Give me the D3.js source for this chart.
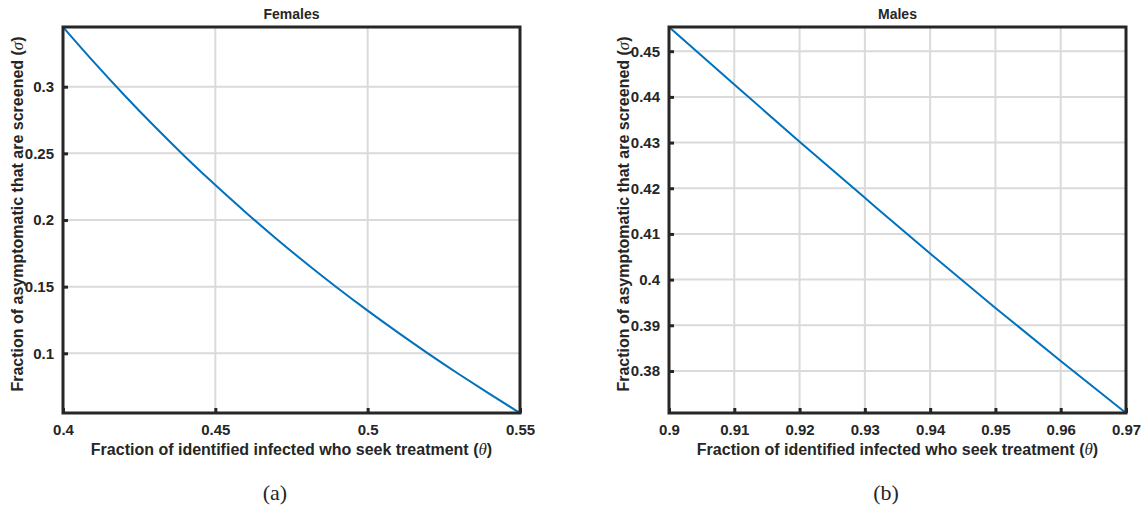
<!DOCTYPE html>
<html>
<head>
<meta charset="utf-8">
<script src="https://cdn.jsdelivr.net/npm/d3@7"></script>
<style>
  body { margin: 0; background: #fff; }
  svg text { fill: #262626; }
</style>
</head>
<body>
<div id="chart-area"></div>
<script>
'use strict';

// panel (a): females
let femaleTheta = [0.40, 0.41, 0.42, 0.43, 0.44, 0.45, 0.46, 0.47, 0.48, 0.49, 0.50, 0.51, 0.52, 0.53, 0.54, 0.55];
let femaleSigma = [0.3448, 0.3188, 0.2940, 0.2703, 0.2477, 0.2262, 0.2057, 0.1860, 0.1672, 0.1492, 0.1320, 0.1155, 0.0996, 0.0843, 0.0695, 0.0552];
let femaleXTicks = [0.4, 0.45, 0.5, 0.55];
let femaleYTicks = [0.1, 0.15, 0.2, 0.25, 0.3];
let femaleXDomain = [0.4, 0.55];
let femaleYDomain = [0.0552, 0.3448];

// panel (b): males
let maleTheta = [0.90, 0.91, 0.92, 0.93, 0.94, 0.95, 0.96, 0.97];
let maleSigma = [0.4553, 0.4427, 0.4302, 0.4179, 0.4057, 0.3938, 0.3822, 0.3708];
let maleXTicks = [0.9, 0.91, 0.92, 0.93, 0.94, 0.95, 0.96, 0.97];
let maleYTicks = [0.38, 0.39, 0.4, 0.41, 0.42, 0.43, 0.44, 0.45];
let maleXDomain = [0.9, 0.97];
let maleYDomain = [0.3708, 0.4553];

let W = 1148, H = 505;

let svg = d3.select('#chart-area').append('svg')
    .attr('width', W)
    .attr('height', H);

let sans = '"Liberation Sans", Arial, sans-serif';
let serif = '"Liberation Serif", "DejaVu Serif", serif';

function panel(left, cfg) {
    let w = 457, h = 386, top = 27;
    let g = svg.append('g')
        .attr('transform', 'translate(' + left + ',' + top + ')');

    let x = d3.scaleLinear().domain(cfg.xDomain).range([0, w]);
    let y = d3.scaleLinear().domain(cfg.yDomain).range([h, 0]);

    // grid
    g.append('g')
        .selectAll('line')
        .data(cfg.xTicks.filter(d => x(d) > 1 && x(d) < w - 1))
        .enter().append('line')
            .attr('x1', d => x(d)).attr('x2', d => x(d))
            .attr('y1', 0).attr('y2', h)
            .attr('stroke', '#dadada')
            .attr('stroke-width', 2);
    g.append('g')
        .selectAll('line')
        .data(cfg.yTicks)
        .enter().append('line')
            .attr('x1', 0).attr('x2', w)
            .attr('y1', d => y(d)).attr('y2', d => y(d))
            .attr('stroke', '#dadada')
            .attr('stroke-width', 2);

    // curve
    let line = d3.line()
        .x((d, i) => x(cfg.theta[i]))
        .y(d => y(d))
        .curve(d3.curveMonotoneX);
    g.append('path')
        .datum(cfg.sigma)
        .attr('d', line)
        .attr('fill', 'none')
        .attr('stroke', '#0072BD')
        .attr('stroke-width', 2);

    // axes with inward ticks
    let xAxis = d3.axisBottom(x)
        .tickValues(cfg.xTicks)
        .tickSizeInner(-5)
        .tickSizeOuter(0)
        .tickPadding(11)
        .tickFormat(d3.format(''));
    let gx = g.append('g')
        .attr('transform', 'translate(0,' + h + ')')
        .call(xAxis);

    let yAxis = d3.axisLeft(y)
        .tickValues(cfg.yTicks)
        .tickSizeInner(-5)
        .tickSizeOuter(0)
        .tickPadding(9)
        .tickFormat(d3.format(''));
    let gy = g.append('g')
        .call(yAxis);

    [gx, gy].forEach(a => {
        a.select('.domain').remove();
        a.selectAll('.tick line')
            .attr('stroke', '#262626')
            .attr('stroke-width', 3);
        a.selectAll('.tick text')
            .attr('font-family', sans)
            .attr('font-weight', 'bold')
            .attr('font-size', '15px')
            .attr('fill', '#262626');
    });

    // box
    g.append('rect')
        .attr('x', 0).attr('y', 0)
        .attr('width', w).attr('height', h)
        .attr('fill', 'none')
        .attr('stroke', '#262626')
        .attr('stroke-width', 3);

    // title
    g.append('text')
        .attr('x', w / 2)
        .attr('y', -8)
        .attr('text-anchor', 'middle')
        .attr('font-family', sans)
        .attr('font-weight', 'bold')
        .attr('font-size', '14px')
        .text(cfg.title);

    // x label
    let xl = g.append('text')
        .attr('x', w / 2)
        .attr('y', h + 42)
        .attr('text-anchor', 'middle')
        .attr('font-family', sans)
        .attr('font-weight', 'bold')
        .attr('font-size', '16px');
    xl.append('tspan').text('Fraction of identified infected who seek treatment (');
    xl.append('tspan').attr('font-family', serif).attr('font-style', 'italic')
        .attr('font-weight', 'normal').attr('font-size', '17px').text('\u03b8');
    xl.append('tspan').text(')');

    // y label
    let yl = g.append('text')
        .attr('transform', 'translate(' + cfg.yLabelX + ',' + (h / 2 - 6) + ') rotate(-90)')
        .attr('text-anchor', 'middle')
        .attr('font-family', sans)
        .attr('font-weight', 'bold')
        .attr('font-size', '16px');
    yl.append('tspan').text('Fraction of asymptomatic that are screened (');
    yl.append('tspan').attr('font-family', serif).attr('font-style', 'italic')
        .attr('font-weight', 'normal').attr('font-size', '17px').text('\u03c3');
    yl.append('tspan').text(')');

    // subfigure caption
    svg.append('text')
        .attr('x', left + cfg.captionDx)
        .attr('y', 500)
        .attr('text-anchor', 'middle')
        .attr('font-family', serif)
        .attr('font-size', '22px')
        .text(cfg.caption);
}

panel(63, {
    title: 'Females', caption: '(a)',
    theta: femaleTheta, sigma: femaleSigma,
    xTicks: femaleXTicks, yTicks: femaleYTicks,
    xDomain: femaleXDomain, yDomain: femaleYDomain,
    yLabelX: -40, captionDx: 212
});

panel(669, {
    title: 'Males', caption: '(b)',
    theta: maleTheta, sigma: maleSigma,
    xTicks: maleXTicks, yTicks: maleYTicks,
    xDomain: maleXDomain, yDomain: maleYDomain,
    yLabelX: -40, captionDx: 217
});
</script>
</body>
</html>
